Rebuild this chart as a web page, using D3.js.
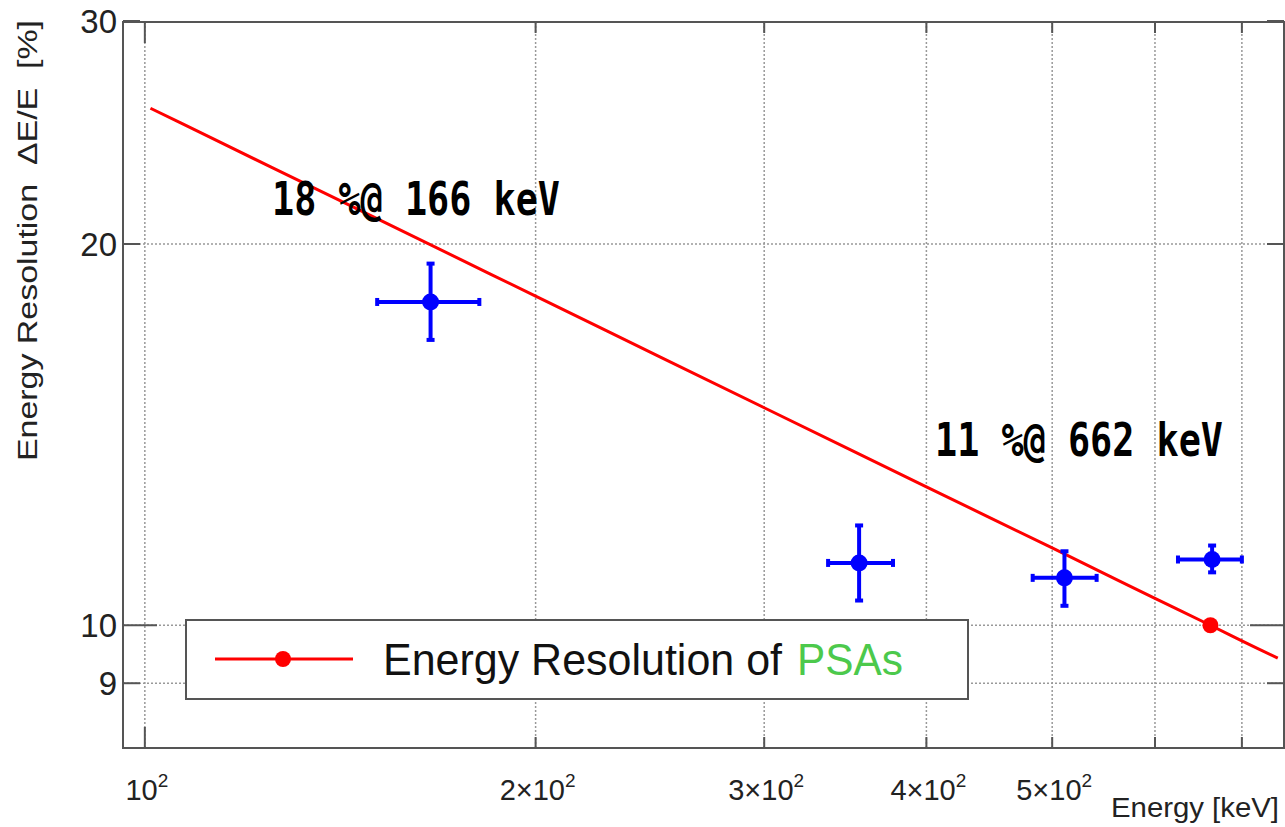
<!DOCTYPE html>
<html>
<head>
<meta charset="utf-8">
<script src="https://cdn.jsdelivr.net/npm/d3@7"></script>
<style>
  html, body { margin: 0; padding: 0; background: #fff; }
  svg { display: block; }
</style>
</head>
<body>
<svg id="chart" width="1285" height="827"></svg>
<script>
// Fitted resolution curve (keV, %)
const fitEnergy = [101, 110, 125, 150, 175, 200, 250, 300, 350, 400, 450, 500, 550, 600, 662, 700, 746];
const fitRes    = [25.60, 24.53, 23.01, 21.01, 19.45, 18.19, 16.27, 14.85, 13.75, 12.86, 12.13, 11.51, 10.97, 10.50, 10.00, 9.72, 9.42];

// Reference point on the fit
const refEnergy = [662];
const refRes = [10.0];

// Measured points with error bars
const pointE      = [166, 355, 511, 664];
const pointELow   = [151, 336, 483, 625];
const pointEHigh  = [181, 377, 541, 700];
const pointRes    = [18.0, 11.2, 10.9, 11.27];
const pointResLow = [16.8, 10.46, 10.36, 11.01];
const pointResHigh= [19.3, 11.99, 11.44, 11.56];

// Axis ticks and labels
const xGridValues = [100, 200, 300, 400, 500, 600, 700];
const xMajorTicks = [100];
const xLabels = [
  { v: 100, mant: "", exp: "2" },
  { v: 200, mant: "2×", exp: "2" },
  { v: 300, mant: "3×", exp: "2" },
  { v: 400, mant: "4×", exp: "2" },
  { v: 500, mant: "5×", exp: "2" }
];
const yGridValues = [9, 10, 20];
const yMajorTicks = [10];
const yMinorTicks = [9, 20, 30];
const yLabels = [30, 20, 10, 9];

// Annotations
const notes = [
  { text: "18 %@ 166 keV", x: 272, y: 215 },
  { text: "11 %@ 662 keV", x: 935, y: 456 }
];

const svg = d3.select("#chart");
const L = 123, R = 1284, T = 22, B = 748;

const x = d3.scaleLog().domain([96.2, 754.3]).range([L, R]);
const y = d3.scaleLog().domain([8, 30]).range([B, T - 1]);

const gridColor = "#999";
const frameColor = "#555";
const labelFont = "'Liberation Sans', Arial, sans-serif";

// grid
const grid = svg.append("g");
grid.selectAll(".gx").data(xGridValues).enter().append("line")
  .attr("x1", d => x(d)).attr("x2", d => x(d))
  .attr("y1", T).attr("y2", B)
  .attr("stroke", gridColor).attr("stroke-width", 1.5).attr("stroke-dasharray", "2,2");
grid.selectAll(".gy").data(yGridValues).enter().append("line")
  .attr("x1", L).attr("x2", R)
  .attr("y1", d => y(d)).attr("y2", d => y(d))
  .attr("stroke", gridColor).attr("stroke-width", 1.5).attr("stroke-dasharray", "2,2");

// frame
svg.append("rect").attr("x", L).attr("y", T).attr("width", R - L).attr("height", B - T)
  .attr("fill", "none").attr("stroke", frameColor).attr("stroke-width", 2);

// ticks
const ticks = svg.append("g").attr("stroke", frameColor).attr("stroke-width", 2);
xGridValues.forEach(v => {
  const len = xMajorTicks.includes(v) ? 21 : 11;
  ticks.append("line").attr("x1", x(v)).attr("x2", x(v)).attr("y1", B).attr("y2", B - len);
  ticks.append("line").attr("x1", x(v)).attr("x2", x(v)).attr("y1", T).attr("y2", T + len);
});
yMajorTicks.concat(yMinorTicks).forEach(v => {
  const len = yMajorTicks.includes(v) ? 34 : 17;
  ticks.append("line").attr("x1", L).attr("x2", L + len).attr("y1", y(v)).attr("y2", y(v));
  ticks.append("line").attr("x1", R).attr("x2", R - len).attr("y1", y(v)).attr("y2", y(v));
});

// y tick labels
svg.append("g").selectAll("text").data(yLabels).enter().append("text")
  .attr("x", 117).attr("y", d => y(d) + 12)
  .attr("text-anchor", "end")
  .attr("font-family", labelFont)
  .attr("font-size", 33).attr("fill", "#222")
  .text(d => d);

// x tick labels
const xl = svg.append("g");
xLabels.forEach(d => {
  const t = xl.append("text")
    .attr("x", x(d.v) + 2).attr("y", 800)
    .attr("text-anchor", "middle")
    .attr("font-family", labelFont)
    .attr("font-size", 29).attr("fill", "#222");
  t.append("tspan").text(d.mant + "10");
  t.append("tspan").attr("dy", -13).attr("font-size", 19).text(d.exp);
});

// axis titles
svg.append("text")
  .attr("x", 1279).attr("y", 817).attr("text-anchor", "end")
  .attr("font-family", labelFont)
  .attr("font-size", 28).attr("fill", "#222")
  .attr("textLength", 168).attr("lengthAdjust", "spacingAndGlyphs")
  .text("Energy [keV]");

svg.append("text")
  .attr("transform", "translate(37,461) rotate(-90)")
  .attr("font-family", labelFont)
  .attr("font-size", 27).attr("fill", "#222")
  .attr("textLength", 441).attr("lengthAdjust", "spacingAndGlyphs")
  .attr("xml:space", "preserve")
  .text("Energy Resolution  ΔE/E  [%]");

// fit curve
const line = d3.line().x((d, i) => x(fitEnergy[i])).y(d => y(d)).curve(d3.curveCatmullRom);
svg.append("path").datum(fitRes)
  .attr("d", line).attr("fill", "none")
  .attr("stroke", "#ff0000").attr("stroke-width", 3);

// measured points
const blue = "#0000ff";
const pts = svg.append("g").attr("stroke", blue).attr("fill", blue);
pointE.forEach((e, i) => {
  const cx = x(e), cy = y(pointRes[i]);
  const xl0 = x(pointELow[i]), xh0 = x(pointEHigh[i]);
  const yl0 = y(pointResLow[i]), yh0 = y(pointResHigh[i]);
  pts.append("line").attr("x1", xl0).attr("x2", xh0).attr("y1", cy).attr("y2", cy).attr("stroke-width", 4);
  pts.append("line").attr("x1", cx).attr("x2", cx).attr("y1", yl0).attr("y2", yh0).attr("stroke-width", 4);
  // end caps
  pts.append("rect").attr("x", xl0 - 2).attr("y", cy - 4).attr("width", 4).attr("height", 8).attr("stroke", "none");
  pts.append("rect").attr("x", xh0 - 2).attr("y", cy - 4).attr("width", 4).attr("height", 8).attr("stroke", "none");
  pts.append("rect").attr("x", cx - 4).attr("y", yl0 - 2).attr("width", 8).attr("height", 4).attr("stroke", "none");
  pts.append("rect").attr("x", cx - 4).attr("y", yh0 - 2).attr("width", 8).attr("height", 4).attr("stroke", "none");
  pts.append("circle").attr("cx", cx).attr("cy", cy).attr("r", 8.5).attr("stroke", "none");
});

// reference marker on the fit
svg.append("g").selectAll("circle").data(refEnergy).enter().append("circle")
  .attr("cx", d => x(d)).attr("cy", (d, i) => y(refRes[i])).attr("r", 8).attr("fill", "#ff0000");

// annotations
svg.append("g").selectAll("text").data(notes).enter().append("text")
  .attr("x", d => d.x).attr("y", d => d.y)
  .attr("font-family", "'DejaVu Sans Mono', 'Liberation Mono', monospace")
  .attr("font-weight", "bold")
  .attr("font-size", 46).attr("fill", "#000")
  .attr("textLength", 288).attr("lengthAdjust", "spacingAndGlyphs")
  .text(d => d.text);

// legend
const lg = svg.append("g");
lg.append("rect").attr("x", 186).attr("y", 620).attr("width", 782).attr("height", 79)
  .attr("fill", "#fff").attr("stroke", frameColor).attr("stroke-width", 2);
lg.append("line").attr("x1", 215).attr("x2", 353).attr("y1", 659).attr("y2", 659)
  .attr("stroke", "#ff0000").attr("stroke-width", 3);
lg.append("circle").attr("cx", 283).attr("cy", 659).attr("r", 8).attr("fill", "#ff0000");
lg.append("text").attr("x", 383).attr("y", 675)
  .attr("font-family", labelFont)
  .attr("font-size", 45).attr("fill", "#111")
  .attr("textLength", 399).attr("lengthAdjust", "spacingAndGlyphs")
  .text("Energy Resolution of");
lg.append("text").attr("x", 797).attr("y", 675)
  .attr("font-family", labelFont)
  .attr("font-size", 45).attr("fill", "#4cc94c")
  .attr("textLength", 106).attr("lengthAdjust", "spacingAndGlyphs")
  .text("PSAs");
</script>
</body>
</html>
